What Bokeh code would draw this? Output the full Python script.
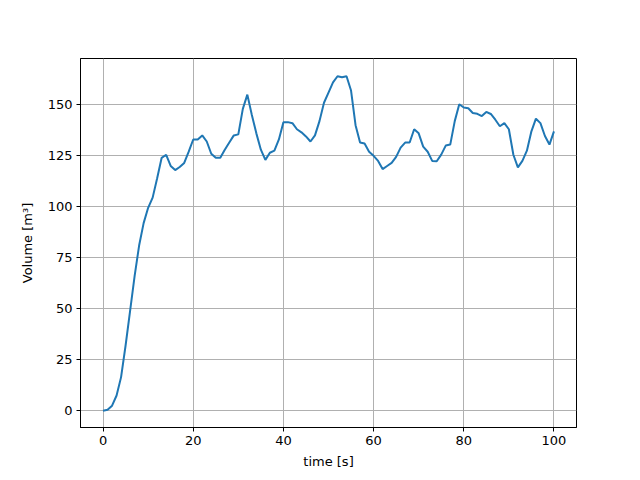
from bokeh.plotting import figure
from bokeh.models import Range1d, FixedTicker
from bokeh.embed import file_html
from bokeh.resources import INLINE

time_s = list(range(0, 101))
volume_m3 = [
    0.0, 0.5, 2.5, 7.5, 16.5, 32, 49, 66, 81, 92,
    99.5, 104.5, 114, 124, 125.5, 120, 118, 119.5, 121.5, 127,
    133, 133, 135, 132, 126, 124, 124, 128, 131.5, 135,
    135.5, 148, 155, 145, 136, 128, 123, 126.5, 127.5, 133,
    141.5, 141.5, 141, 138, 136.5, 134.5, 132, 135, 142, 151,
    156, 161, 164, 163.5, 164, 157, 140, 131.5, 131, 127,
    125, 122.5, 118.5, 120, 121.5, 124.5, 129, 131.5, 131.5, 138,
    136, 129.5, 127, 122.5, 122.3, 125.6, 130, 130.5, 142, 150.3,
    148.7, 148.3, 146, 145.6, 144.5, 146.5, 145.5, 142.7, 139.5, 141,
    138, 125.5, 119.3, 122.5, 127.5, 137, 143.2, 141, 134.7, 130.5,
    137,
]
x_ticks = [0, 20, 40, 60, 80, 100]
y_ticks = [0, 25, 50, 75, 100, 125, 150]

p = figure(
    output_backend="svg", toolbar_location=None,
    frame_width=496, frame_height=369,
    min_border_left=80, min_border_right=56, min_border_top=58, min_border_bottom=45,
    x_range=Range1d(-5, 105), y_range=Range1d(-8.2, 172.7),
    background_fill_color="white", border_fill_color="white",
)
p.line(time_s, volume_m3, line_color="#1f77b4", line_width=2)

p.xaxis.ticker = FixedTicker(ticks=x_ticks)
p.yaxis.ticker = FixedTicker(ticks=y_ticks)
p.xaxis.axis_label = "time [s]"
p.yaxis.axis_label = "Volume [m³]"
for ax in (p.xaxis, p.yaxis):
    ax.axis_label_text_font = "DejaVu Sans"
    ax.axis_label_text_font_style = "normal"
    ax.axis_label_text_font_size = "13px"
    ax.major_label_text_font = "DejaVu Sans"
    ax.major_label_text_font_size = "13px"
    ax.major_label_text_color = "black"
    ax.axis_label_text_color = "black"
    ax.minor_tick_line_color = None
    ax.major_tick_out = 4
    ax.major_tick_in = 0
    ax.major_tick_line_color = "black"
    ax.axis_line_color = "black"
    ax.axis_label_standoff = 6
    ax.major_label_standoff = 4
p.yaxis.axis_label_standoff = 10

p.grid.grid_line_color = "#b0b0b0"
p.grid.grid_line_width = 1
p.outline_line_color = "black"
p.outline_line_width = 1

open("out.html", "w").write(file_html(p, INLINE))
